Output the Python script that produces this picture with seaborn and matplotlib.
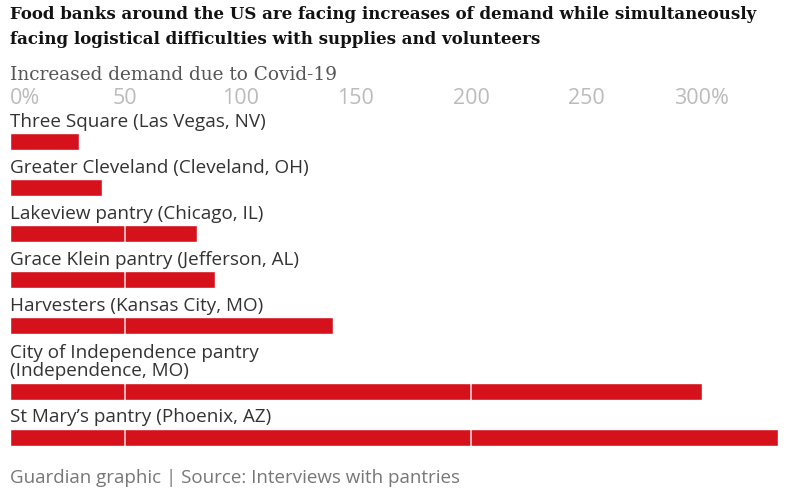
import matplotlib
matplotlib.use('Agg')
import matplotlib.pyplot as plt
import seaborn as sns
import pandas as pd

sns.set_theme(style="white")
plt.rcParams['font.family'] = ['Open Sans', 'DejaVu Sans']

pantries = [
    "Three Square (Las Vegas, NV)",
    "Greater Cleveland (Cleveland, OH)",
    "Lakeview pantry (Chicago, IL)",
    "Grace Klein pantry (Jefferson, AL)",
    "Harvesters (Kansas City, MO)",
    "City of Independence pantry\n(Independence, MO)",
    "St Mary\u2019s pantry (Phoenix, AZ)",
]
increase_pct = [30, 40, 81, 89, 140, 300, 333]
tick_values = [0, 50, 100, 150, 200, 250, 300]
tick_labels = ["0%", "50", "100", "150", "200", "250", "300%"]

RED = "#d5121c"

# rows with two-line labels need a bit more room above them
rows = []
y = 0.0
for i, name in enumerate(pantries):
    if i > 0:
        y += 1 + 0.43 * name.count("\n")
    rows.append(y)

df = pd.DataFrame({"pantry": pantries, "pct": increase_pct, "row": rows})

fig = plt.figure(figsize=(8, 4.93), dpi=100)
ax = fig.add_axes([10 / 800, 1 - 452 / 493, 769 / 800, (452 - 110) / 493])

sns.barplot(data=df, x="pct", y="row", orient="h", native_scale=True,
            color=RED, width=0.37, saturation=1, ax=ax)

ax.set_xlim(0, 333.5)
ax.set_ylim(6.75, -0.685)

# faint white marks across the bars
for g in [50, 200]:
    ax.axvline(g, color="white", lw=1.2, alpha=0.8, zorder=5)

for name, r in zip(pantries, rows):
    ax.text(0, r - 0.185 - 0.05, name, ha="left", va="bottom",
            fontsize=13.6, color="#333333", zorder=10, linespacing=1.05)

ax.xaxis.tick_top()
ax.set_xticks(tick_values)
ax.set_xticklabels(tick_labels, fontsize=15.5, color="#bbbbbb")
ax.get_xticklabels()[0].set_horizontalalignment("left")
ax.tick_params(axis="x", length=0, pad=1)
ax.set_yticks([])
ax.set_xlabel("")
ax.set_ylabel("")
for s in ax.spines.values():
    s.set_visible(False)

fig.text(10 / 800, 1 - 6 / 493,
         "Food banks around the US are facing increases of demand while simultaneously\n"
         "facing logistical difficulties with supplies and volunteers",
         ha="left", va="top", fontsize=12, fontweight="bold",
         family=["DejaVu Serif"], color="#121212", linespacing=1.65)
fig.text(10 / 800, 1 - 75 / 493, "Increased demand due to Covid-19",
         ha="left", va="center", fontsize=13.3, family=["DejaVu Serif"],
         color="#555555")
fig.text(10 / 800, 1 - 478 / 493, "Guardian graphic | Source: Interviews with pantries",
         ha="left", va="center", fontsize=13.5, color="#777777")

fig.savefig("out.png", dpi=100)
